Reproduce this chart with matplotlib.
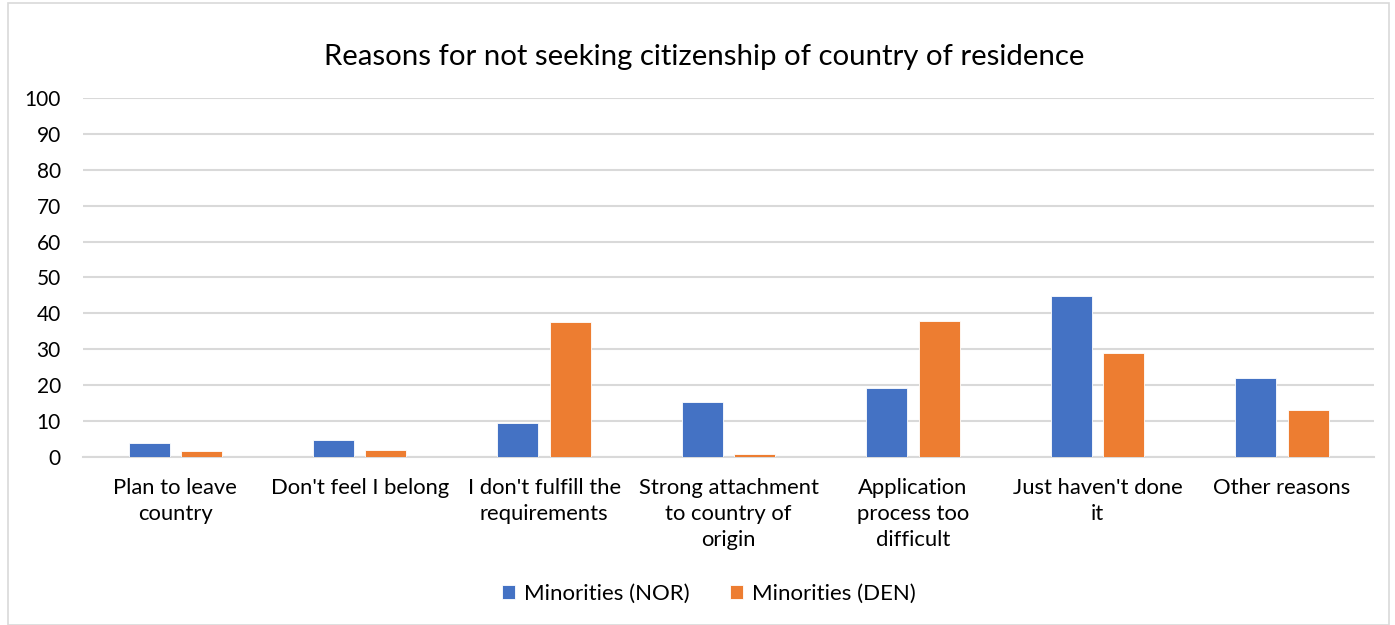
import matplotlib.pyplot as plt
import numpy as np
from matplotlib.patches import Rectangle

plt.rcParams['font.family'] = ['Lato', 'DejaVu Sans']

categories = ["Plan to leave\ncountry", "Don't feel I belong", "I don't fulfill the\nrequirements",
              "Strong attachment\nto country of\norigin", "Application\nprocess too\ndifficult",
              "Just haven't done\nit", "Other reasons"]
nor_values = [3.7, 4.6, 9.3, 15.3, 19.1, 44.8, 22.0]
den_values = [1.7, 1.9, 37.5, 0.8, 37.9, 28.8, 13.0]
series_names = ["Minorities (NOR)", "Minorities (DEN)"]
y_ticks = list(range(0, 101, 10))

fig = plt.figure(figsize=(13.95, 6.25), dpi=100)
ax = fig.add_axes([0.0595, 0.2693, 0.9255, 0.5737])

x = np.arange(len(categories))
w = 0.222
ax.bar(x - 0.142, nor_values, w, color='#4472C4', edgecolor='white', linewidth=0.6,
       label=series_names[0], zorder=3)
ax.bar(x + 0.142, den_values, w, color='#ED7D31', edgecolor='white', linewidth=0.6,
       label=series_names[1], zorder=3)

ax.set_xlim(-0.5, len(categories) - 0.5)
ax.set_ylim(0, 100)
ax.set_yticks(y_ticks)
ax.set_yticklabels([str(t) for t in y_ticks], fontsize=15, color='#000000')
ax.set_xticks(x)
ax.set_xticklabels(categories, fontsize=15.8, linespacing=1.4, va='top')
ax.tick_params(axis='both', length=0)
ax.tick_params(axis='y', pad=16)
ax.tick_params(axis='x', pad=15)
ax.grid(axis='y', color='#d9d9d9', linewidth=1.5, zorder=0)
for s in ['top', 'right', 'left']:
    ax.spines[s].set_visible(False)
ax.spines['bottom'].set_color('#d9d9d9')
ax.spines['bottom'].set_linewidth(1.5)

fig.suptitle("Reasons for not seeking citizenship of country of residence", fontsize=21.2,
             y=0.93, x=0.505)

leg = fig.legend(loc='center', bbox_to_anchor=(0.508, 0.05), ncol=2, frameon=False,
                 fontsize=16, handlelength=0.6, handleheight=0.6, handletextpad=0.4,
                 columnspacing=1.8)

# light frame around the whole chart
fig.patches.append(Rectangle((0.006, 0.0), 0.99, 0.995, transform=fig.transFigure,
                             fill=False, edgecolor='#d9d9d9', linewidth=1.2))

fig.savefig('out.png', dpi=100)
